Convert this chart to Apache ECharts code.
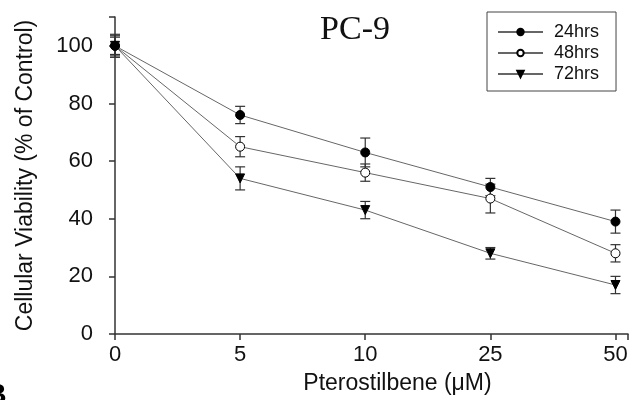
<html>
<head>
<meta charset="utf-8">
<script src="https://cdn.jsdelivr.net/npm/echarts@6/dist/echarts.min.js"></script>
</head>
<body style="margin:0">
<div id="main" style="width:631px;height:400px;"></div>
<script type="text/javascript">
var doses = ['0', '5', '10', '25', '50'];
var yTicks = [0, 20, 40, 60, 80, 100];
var v24 = [100, 76, 63, 51, 39];
var e24 = [3, 3, 5, 3, 4];
var v48 = [100, 65, 56, 47, 28];
var e48 = [4, 3.5, 3, 5, 3];
var v72 = [100, 54, 43, 28, 17];
var e72 = [3.5, 4, 3, 2, 3];

var myChart = echarts.init(document.getElementById('main'));
var font = 'Liberation Sans, Arial, sans-serif';

function pts(vals) {
    return vals.map(function (v, i) { return [i, v]; });
}
function bars(vals, errs) {
    return vals.map(function (v, i) { return [i, v - errs[i], v + errs[i]]; });
}
function errSeries(vals, errs) {
    return {
        type: 'custom',
        silent: true,
        z: 1,
        data: bars(vals, errs),
        renderItem: function (params, api) {
            var lo = api.coord([api.value(0), api.value(1)]);
            var hi = api.coord([api.value(0), api.value(2)]);
            var w = 5;
            var st = { stroke: '#333', lineWidth: 1.2 };
            return {
                type: 'group',
                children: [
                    { type: 'line', shape: { x1: lo[0], y1: lo[1], x2: hi[0], y2: hi[1] }, style: st },
                    { type: 'line', shape: { x1: lo[0] - w, y1: lo[1], x2: lo[0] + w, y2: lo[1] }, style: st },
                    { type: 'line', shape: { x1: hi[0] - w, y1: hi[1], x2: hi[0] + w, y2: hi[1] }, style: st }
                ]
            };
        }
    };
}
function lineSeries(name, vals, symbol, fill, z) {
    return {
        name: name,
        type: 'line',
        data: pts(vals),
        symbol: symbol,
        symbolSize: 9,
        z: z,
        lineStyle: { color: '#666', width: 1 },
        itemStyle: { color: fill, borderColor: '#000', borderWidth: 1 }
    };
}

var option = {
    animation: false,
    title: {
        text: 'PC-9',
        left: 350,
        top: 8,
        textAlign: 'center',
        textStyle: { fontFamily: 'Liberation Serif, Times New Roman, serif', fontSize: 34, fontWeight: 'normal', color: '#111' }
    },
    legend: {
        left: 487,
        top: 12,
        orient: 'vertical',
        itemWidth: 45,
        itemHeight: 8,
        itemGap: 3,
        padding: [11, 17, 8, 10],
        borderColor: '#444',
        borderWidth: 1,
        textStyle: { fontFamily: font, fontSize: 18, color: '#111', padding: [0, 0, 0, 6] },
        data: ['24hrs', '48hrs', '72hrs']
    },
    grid: { left: 115, right: 3, top: 17, bottom: 66 },
    xAxis: {
        type: 'value',
        min: 0,
        max: 4.1,
        interval: 1,
        name: 'Pterostilbene (\u03bcM)',
        nameLocation: 'middle',
        nameGap: 38,
        nameTextStyle: { fontFamily: font, fontSize: 23, color: '#111', padding: [0, 0, 0, 52] },
        splitLine: { show: false },
        axisLine: { lineStyle: { color: '#333', width: 1.5 } },
        axisTick: { length: 6, lineStyle: { color: '#333', width: 1.5 } },
        axisLabel: {
            margin: 10,
            fontFamily: font,
            fontSize: 22,
            color: '#111',
            formatter: function (v) { return doses[v] !== undefined && v === Math.round(v) ? doses[v] : ''; }
        }
    },
    yAxis: {
        type: 'value',
        min: 0,
        max: 110,
        interval: 20,
        name: 'Cellular Viability (% of Control)',
        nameLocation: 'middle',
        nameGap: 78,
        nameTextStyle: { fontFamily: font, fontSize: 23, color: '#111' },
        splitLine: { show: false },
        axisLine: { show: true, lineStyle: { color: '#333', width: 1.5 } },
        axisTick: { show: true, length: 6, lineStyle: { color: '#333', width: 1.5 } },
        axisLabel: {
            margin: 22,
            fontFamily: font,
            fontSize: 22,
            color: '#111',
            formatter: function (v) { return yTicks.indexOf(v) >= 0 ? String(v) : ''; }
        }
    },
    graphic: [{
        type: 'text',
        left: -15,
        top: 381,
        style: { text: 'B', font: 'bold 30px Liberation Sans, Arial, sans-serif', fill: '#000' }
    }],
    series: [
        errSeries(v72, e72),
        errSeries(v48, e48),
        errSeries(v24, e24),
        lineSeries('72hrs', v72, 'path://M0,0 L10,0 L5,9 Z', '#000', 3),
        lineSeries('48hrs', v48, 'circle', '#fff', 4),
        lineSeries('24hrs', v24, 'circle', '#000', 5)
    ]
};

myChart.setOption(option);
</script>
</body>
</html>
